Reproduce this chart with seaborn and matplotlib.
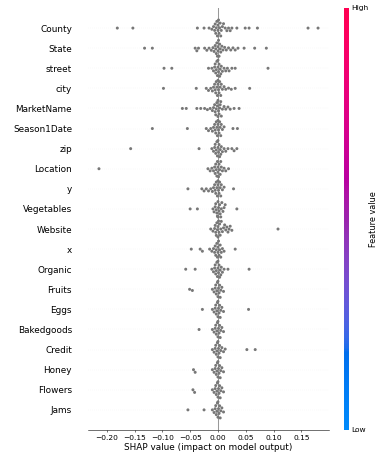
import numpy as np
import pandas as pd
import seaborn as sns
import matplotlib
matplotlib.use('Agg')
import matplotlib.pyplot as plt
import matplotlib.cm as cm
from matplotlib.colors import LinearSegmentedColormap

features = ['County', 'State', 'street', 'city', 'MarketName', 'Season1Date', 'zip', 'Location', 'y',
            'Vegetables', 'Website', 'x', 'Organic', 'Fruits', 'Eggs', 'Bakedgoods', 'Credit', 'Honey',
            'Flowers', 'Jams']

county = [-0.181, -0.153, -0.037, -0.025, -0.016, -0.011, -0.008, -0.006, -0.005, -0.004, -0.003,
          -0.002, -0.001, 0.0, 0.0, 0.001, 0.002, 0.003, 0.004, 0.005, 0.006, 0.008, 0.010, 0.013,
          0.016, 0.019, 0.022, 0.025, 0.034, 0.049, 0.056, 0.071, 0.162, 0.180]
state = [-0.132, -0.118, -0.041, -0.038, -0.035, -0.024, -0.020, -0.016, -0.012, -0.009, -0.007,
         -0.005, -0.004, -0.003, -0.002, -0.001, 0.0, 0.0, 0.001, 0.002, 0.003, 0.004, 0.005, 0.007,
         0.009, 0.012, 0.015, 0.019, 0.023, 0.027, 0.031, 0.036, 0.047, 0.066, 0.087]
street = [-0.097, -0.083, -0.017, -0.011, -0.008, -0.006, -0.005, -0.004, -0.003, -0.002, -0.001,
          0.0, 0.0, 0.001, 0.002, 0.003, 0.004, 0.005, 0.006, 0.008, 0.011, 0.014, 0.017, 0.020,
          0.025, 0.031, 0.090]
city = [-0.098, -0.039, -0.021, -0.017, -0.013, -0.010, -0.008, -0.006, -0.005, -0.004, -0.003,
        -0.002, -0.001, 0.0, 0.0, 0.001, 0.002, 0.003, 0.004, 0.005, 0.006, 0.008, 0.011, 0.014,
        0.019, 0.024, 0.031, 0.057]
market_name = [-0.064, -0.057, -0.038, -0.031, -0.024, -0.019, -0.014, -0.010, -0.008, -0.006,
               -0.005, -0.004, -0.003, -0.002, -0.001, 0.0, 0.0, 0.001, 0.002, 0.003, 0.004, 0.005,
               0.006, 0.008, 0.011, 0.014, 0.018, 0.022, 0.029, 0.038]
season1_date = [-0.118, -0.055, -0.021, -0.017, -0.013, -0.010, -0.008, -0.006, -0.005, -0.004,
                -0.003, -0.002, -0.001, 0.0, 0.0, 0.001, 0.002, 0.003, 0.004, 0.005, 0.006, 0.008,
                0.011, 0.027, 0.035]
zip_code = [-0.157, -0.034, -0.011, -0.008, -0.006, -0.005, -0.004, -0.003, -0.002, -0.001, 0.0,
            0.0, 0.001, 0.002, 0.003, 0.004, 0.005, 0.006, 0.008, 0.011, 0.014, 0.018, 0.025, 0.029,
            0.034]
location = [-0.214, -0.018, -0.014, -0.011, -0.008, -0.006, -0.005, -0.004, -0.003, -0.002, -0.001,
            0.0, 0.0, 0.001, 0.002, 0.003, 0.004, 0.005, 0.006, 0.008, 0.011, 0.014, 0.019]
y_coord = [-0.054, -0.029, -0.025, -0.021, -0.017, -0.013, -0.010, -0.008, -0.006, -0.005, -0.004,
           -0.003, -0.002, -0.001, 0.0, 0.0, 0.001, 0.002, 0.003, 0.004, 0.005, 0.006, 0.008, 0.011,
           0.028]
vegetables = [-0.050, -0.037, -0.009, -0.007, -0.005, -0.004, -0.003, -0.002, -0.001, 0.0, 0.0,
              0.001, 0.002, 0.003, 0.004, 0.005, 0.006, 0.007, 0.009, 0.011, 0.013, 0.034]
website = [-0.013, -0.009, -0.006, -0.005, -0.004, -0.003, -0.002, -0.001, 0.0, 0.0, 0.001, 0.002,
           0.003, 0.004, 0.005, 0.006, 0.008, 0.010, 0.012, 0.014, 0.016, 0.018, 0.020, 0.022,
           0.025, 0.108]
x_coord = [-0.048, -0.032, -0.028, -0.015, -0.011, -0.008, -0.006, -0.005, -0.004, -0.003, -0.002,
           -0.001, 0.0, 0.0, 0.001, 0.002, 0.003, 0.004, 0.005, 0.006, 0.008, 0.011, 0.031]
organic = [-0.058, -0.041, -0.011, -0.008, -0.006, -0.005, -0.004, -0.003, -0.002, -0.001, 0.0,
           0.0, 0.001, 0.002, 0.003, 0.004, 0.005, 0.006, 0.008, 0.011, 0.018, 0.056]
fruits = [-0.051, -0.046, -0.010, -0.007, -0.005, -0.004, -0.003, -0.002, -0.001, 0.0, 0.0, 0.001,
          0.002, 0.003, 0.004, 0.005, 0.007, 0.010]
eggs = [-0.028, -0.010, -0.007, -0.005, -0.004, -0.003, -0.002, -0.001, 0.0, 0.0, 0.001, 0.002,
        0.003, 0.004, 0.005, 0.007, 0.010, 0.055]
bakedgoods = [-0.034, -0.010, -0.007, -0.005, -0.004, -0.003, -0.002, -0.001, 0.0, 0.0, 0.001,
              0.002, 0.003, 0.004, 0.005, 0.007, 0.010]
credit = [-0.010, -0.007, -0.005, -0.004, -0.003, -0.002, -0.001, 0.0, 0.0, 0.001, 0.002, 0.003,
          0.004, 0.005, 0.007, 0.010, 0.013, 0.052, 0.067]
honey = [-0.044, -0.041, -0.010, -0.007, -0.005, -0.004, -0.003, -0.002, -0.001, 0.0, 0.0, 0.001,
         0.002, 0.003, 0.004, 0.005, 0.007, 0.010]
flowers = [-0.045, -0.042, -0.010, -0.007, -0.005, -0.004, -0.003, -0.002, -0.001, 0.0, 0.0, 0.001,
           0.002, 0.003, 0.004, 0.005, 0.007, 0.010]
jams = [-0.054, -0.025, -0.010, -0.007, -0.005, -0.004, -0.003, -0.002, -0.001, 0.0, 0.0, 0.001,
        0.002, 0.003, 0.004, 0.005, 0.007, 0.010]

all_values = [county, state, street, city, market_name, season1_date, zip_code, location, y_coord,
              vegetables, website, x_coord, organic, fruits, eggs, bakedgoods, credit, honey,
              flowers, jams]

rows = []
for name, vals in zip(features, all_values):
    rows += [(name, v) for v in vals]
df = pd.DataFrame(rows, columns=['feature', 'shap_value'])


def lch_to_rgb(l, c, h):
    # Lch -> Lab -> XYZ (D65) -> sRGB
    a, b = c * np.cos(h), c * np.sin(h)
    fy = (l + 16) / 116
    f = np.array([fy + a / 500, fy, fy - b / 200])
    xyz = np.where(f > 6 / 29, f ** 3, 3 * (6 / 29) ** 2 * (f - 4 / 29)) * np.array([0.95047, 1.0, 1.08883])
    m = np.array([[3.2406, -1.5372, -0.4986], [-0.9689, 1.8758, 0.0415], [0.0557, -0.2040, 1.0570]])
    rgb = m @ xyz
    rgb = np.where(rgb > 0.0031308, 1.055 * np.abs(rgb) ** (1 / 2.4) - 0.055, 12.92 * rgb)
    return np.clip(rgb, 0, 1)


# shap style blue -> red colour scale
blue_lch = [54., 70., 4.6588]
red_lch = [54., 90., 0.35470565 + 2 * np.pi]
nsteps = 100
l_vals = list(np.linspace(blue_lch[0], 40., nsteps // 2)) + list(np.linspace(40., red_lch[0], nsteps // 2))
c_vals = np.linspace(blue_lch[1], red_lch[1], nsteps)
h_vals = np.linspace(blue_lch[2], red_lch[2], nsteps)
red_blue = LinearSegmentedColormap.from_list('red_blue', [lch_to_rgb(l, c, h) for l, c, h in zip(l_vals, c_vals, h_vals)])

fig = plt.figure(figsize=(8, 461 / 49))
ax = fig.add_axes([0.2245, 0.0673, 0.6148, 0.9154])

ax.axvline(x=0, color='#999999', zorder=-1)
for i in range(len(features)):
    ax.axhline(y=i, color='#cccccc', lw=0.5, dashes=(1, 5), zorder=-1)

sns.swarmplot(data=df, x='shap_value', y='feature', order=features, orient='h', color='#777777',
              size=4.4, linewidth=0, edgecolor='none', ax=ax, zorder=3)

ax.set_ylim(len(features), -1)
ax.set_ylabel('')
ax.set_xlabel('SHAP value (impact on model output)', fontsize=13)
ax.yaxis.set_ticks_position('none')
ax.xaxis.set_ticks_position('bottom')
ax.tick_params('y', length=20, width=0.5, which='major', labelsize=13)
ax.tick_params('x', labelsize=11)
for side in ['right', 'top', 'left']:
    ax.spines[side].set_visible(False)

cax = fig.add_axes([0.8776, 0.0673, 0.0128, 0.9154])
m = cm.ScalarMappable(cmap=red_blue)
m.set_array([0, 1])
cb = fig.colorbar(m, cax=cax, ticks=[0, 1])
cb.set_ticklabels(['Low', 'High'])
cb.set_label('Feature value', size=12, labelpad=0)
cb.ax.tick_params(labelsize=11, length=0)
cb.outline.set_visible(False)

fig.savefig('out.png', dpi=49)
